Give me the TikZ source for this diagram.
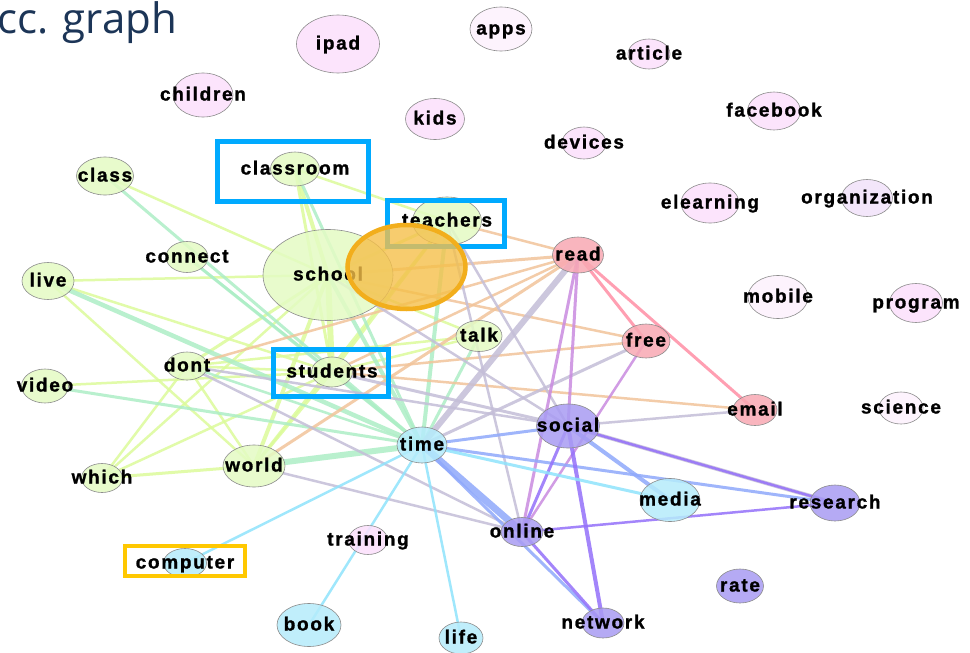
\documentclass[tikz,border=0pt]{standalone}
\usepackage{fontspec}
\setmainfont{Liberation Sans}
\newfontfamily\lblfont[LetterSpace=9, BoldFeatures={FakeBold=1.2}]{Liberation Sans}
\newfontfamily\titlefont{Open Sans}
\usetikzlibrary{shapes.geometric,backgrounds}
\definecolor{gn}{HTML}{E4FBC4}
\definecolor{pk}{HTML}{FCE0FC}
\definecolor{pkl}{HTML}{FDF1FD}
\definecolor{pko}{HTML}{F2E2FA}
\definecolor{rd}{HTML}{F9A9B3}
\definecolor{bl}{HTML}{B5ECFB}
\definecolor{pu}{HTML}{A99CF3}
\definecolor{nb}{HTML}{8C8C8C}
\definecolor{clg}{HTML}{DCFB9A}
\definecolor{cmint}{HTML}{ADEEC6}
\definecolor{cor}{HTML}{F2C49A}
\definecolor{cgr}{HTML}{C4BED8}
\definecolor{corc}{HTML}{C98BE0}
\definecolor{cpk}{HTML}{FF8FA5}
\definecolor{cbl}{HTML}{8FA9FB}
\definecolor{cvi}{HTML}{9470FA}
\definecolor{ccy}{HTML}{8FE3FC}
\definecolor{hlblue}{HTML}{00AAFF}
\definecolor{hlyel}{HTML}{FFC800}
\definecolor{hlor}{HTML}{F2AE1C}
\definecolor{hlorf}{HTML}{F5C04A}
\definecolor{titleblue}{HTML}{1C3557}
\tikzset{
  vtx/.style={ellipse, draw=nb, line width=0.6pt, inner sep=0pt, fill opacity=0.85},
  lbl/.style={font=\lblfont\bfseries\fontsize{19}{19}\selectfont, inner sep=0pt, anchor=base, yshift=-5.5pt},
  edg/.style={opacity=0.85},
  elg/.style={edg, draw=clg},
  emint/.style={edg, draw=cmint},
  eor/.style={edg, draw=cor},
  egr/.style={edg, draw=cgr},
  eorc/.style={edg, draw=corc},
  epk/.style={edg, draw=cpk},
  ebl/.style={edg, draw=cbl},
  evi/.style={edg, draw=cvi},
  ecy/.style={edg, draw=ccy},
  hlbox/.style={draw=hlblue, line width=5pt},
  hlbox2/.style={draw=hlyel, line width=4.5pt},
}
\begin{document}
\begin{tikzpicture}[x=1pt,y=-1pt]
\useasboundingbox (0,0) rectangle (970,653);
% vertices
\foreach \n/\x/\y/\w/\h/\c in {
  class/105/176/57/38/gn, classroom/295/169/49/34/gn, teachers/447/221/69/48/gn,
  connect/187/257/42/31/gn, school/328/275/130/91/gn, live/48/281/52/37/gn,
  talk/479/336/46/31/gn, dont/187/366/41/28/gn, students/332/372/41/30/gn,
  video/45/386/47/34/gn, which/102/478/41/29/gn, world/254/466/62/42/gn,
  ipad/338/44/83/58/pk, children/203/95/60/44/pk, kids/435/119/59/41/pk,
  article/649/54/42/30/pk, devices/584/143/44/32/pk, facebook/774/111/53/38/pk,
  elearning/710/203/58/40/pk, training/368/540/39/29/pk,
  apps/501/29/62/44/pkl, organization/867/198/51/37/pko, mobile/778/297/60/43/pkl,
  program/916/303/53/39/pk, science/901/408/44/32/pkl,
  read/578/255/51/36/rd, free/646/341/48/34/rd, email/755/410/44/31/rd,
  time/422/445/50/36/bl, media/670/500/60/43/bl, computer/185/563/43/29/bl,
  book/309/625/64/43/bl, life/461/638/44/32/bl,
  social/568/426/63/44/pu, online/522/532/42/29/pu, research/835/503/50/36/pu,
  rate/740/586/47/34/pu, network/603/623/42/30/pu}
  \node[vtx, fill=\c, minimum width=\w pt, minimum height=\h pt] (\n) at (\x,\y) {};
% edges
\begin{scope}[on background layer]
\fill[white] (0,0) rectangle (970,653);
\foreach \a/\b/\w in {class/school/2.5, live/school/2.5, live/students/2.5, live/world/2.5,
  video/students/2.5, dont/school/3, dont/students/2.5, dont/world/2.5, dont/which/2.5,
  dont/talk/2.5, which/school/2.5, which/students/2.5, which/world/3, world/school/4,
  world/students/3, classroom/school/4, classroom/students/3, classroom/teachers/2.5,
  school/teachers/3, school/talk/2.5, school/students/6, talk/students/2.5,
  teachers/students/3, teachers/world/3}
  \draw[elg, line width=\w pt] (\a.center) -- (\b.center);
\foreach \a/\b/\w in {class/time/3, connect/time/3, connect/students/2.5, live/time/4.5,
  video/time/3, world/time/6, classroom/time/3, teachers/time/4, talk/time/3,
  school/time/4, students/time/3, dont/time/2.5}
  \draw[emint, line width=\w pt] (\a.center) -- (\b.center);
\foreach \a/\b/\w in {read/teachers/2.5, read/school/3, read/dont/2.5, read/students/2.5,
  read/world/3, students/free/2.5, school/free/2.5, students/email/2.5}
  \draw[eor, line width=\w pt] (\a.center) -- (\b.center);
\foreach \a/\b/\w in {read/time/6, teachers/social/2.5, teachers/online/2.5, school/social/2.5,
  dont/online/2.5, dont/social/2.5, students/social/3, world/online/2.5, time/free/3,
  social/email/2.5, social/research/4}
  \draw[egr, line width=\w pt] (\a.center) -- (\b.center);
\foreach \a/\b/\w in {read/online/3, read/social/3, free/online/2.5}
  \draw[eorc, line width=\w pt] (\a.center) -- (\b.center);
\foreach \a/\b/\w in {read/free/3, read/email/3}
  \draw[epk, line width=\w pt] (\a.center) -- (\b.center);
\foreach \a/\b/\w in {time/social/3, time/online/7, time/research/3, social/media/4, time/network/3}
  \draw[ebl, line width=\w pt] (\a.center) -- (\b.center);
\foreach \a/\b/\w in {social/online/3, social/network/4, social/research/2.5,
  online/research/2.5, online/network/3}
  \draw[evi, line width=\w pt] (\a.center) -- (\b.center);
\foreach \a/\b/\w in {time/media/3, time/computer/2.5, time/book/2.5, time/life/2.5}
  \draw[ecy, line width=\w pt] (\a.center) -- (\b.center);
\end{scope}
% labels
\foreach \n in {class, classroom, teachers, connect, school, live, talk, dont, students,
  video, which, world, ipad, children, kids, article, devices, facebook, elearning,
  training, apps, organization, mobile, program, science, read, free, email, time,
  media, computer, book, life, social, online, research, rate, network}
  \node[lbl] (\n-l) at (\n) {\n};
% highlight boxes
\draw[hlbox] (217,141) rectangle (368,201);
\draw[hlbox] (387,200) rectangle (504,246);
\draw[hlbox] (273,349) rectangle (388,396);
\draw[hlbox2] (125,546) rectangle (245,576);
\node[ellipse, draw=hlor, fill=hlorf, fill opacity=0.8, line width=4.5pt,
  minimum width=118pt, minimum height=84pt, inner sep=0pt] (focus) at (406.5,267) {};
% title
\node[font=\titlefont\fontsize{42}{42}\selectfont, text=titleblue, anchor=base west,
  inner sep=0pt] (title) at (-3,34) {cc. graph};
\end{tikzpicture}
\end{document}
